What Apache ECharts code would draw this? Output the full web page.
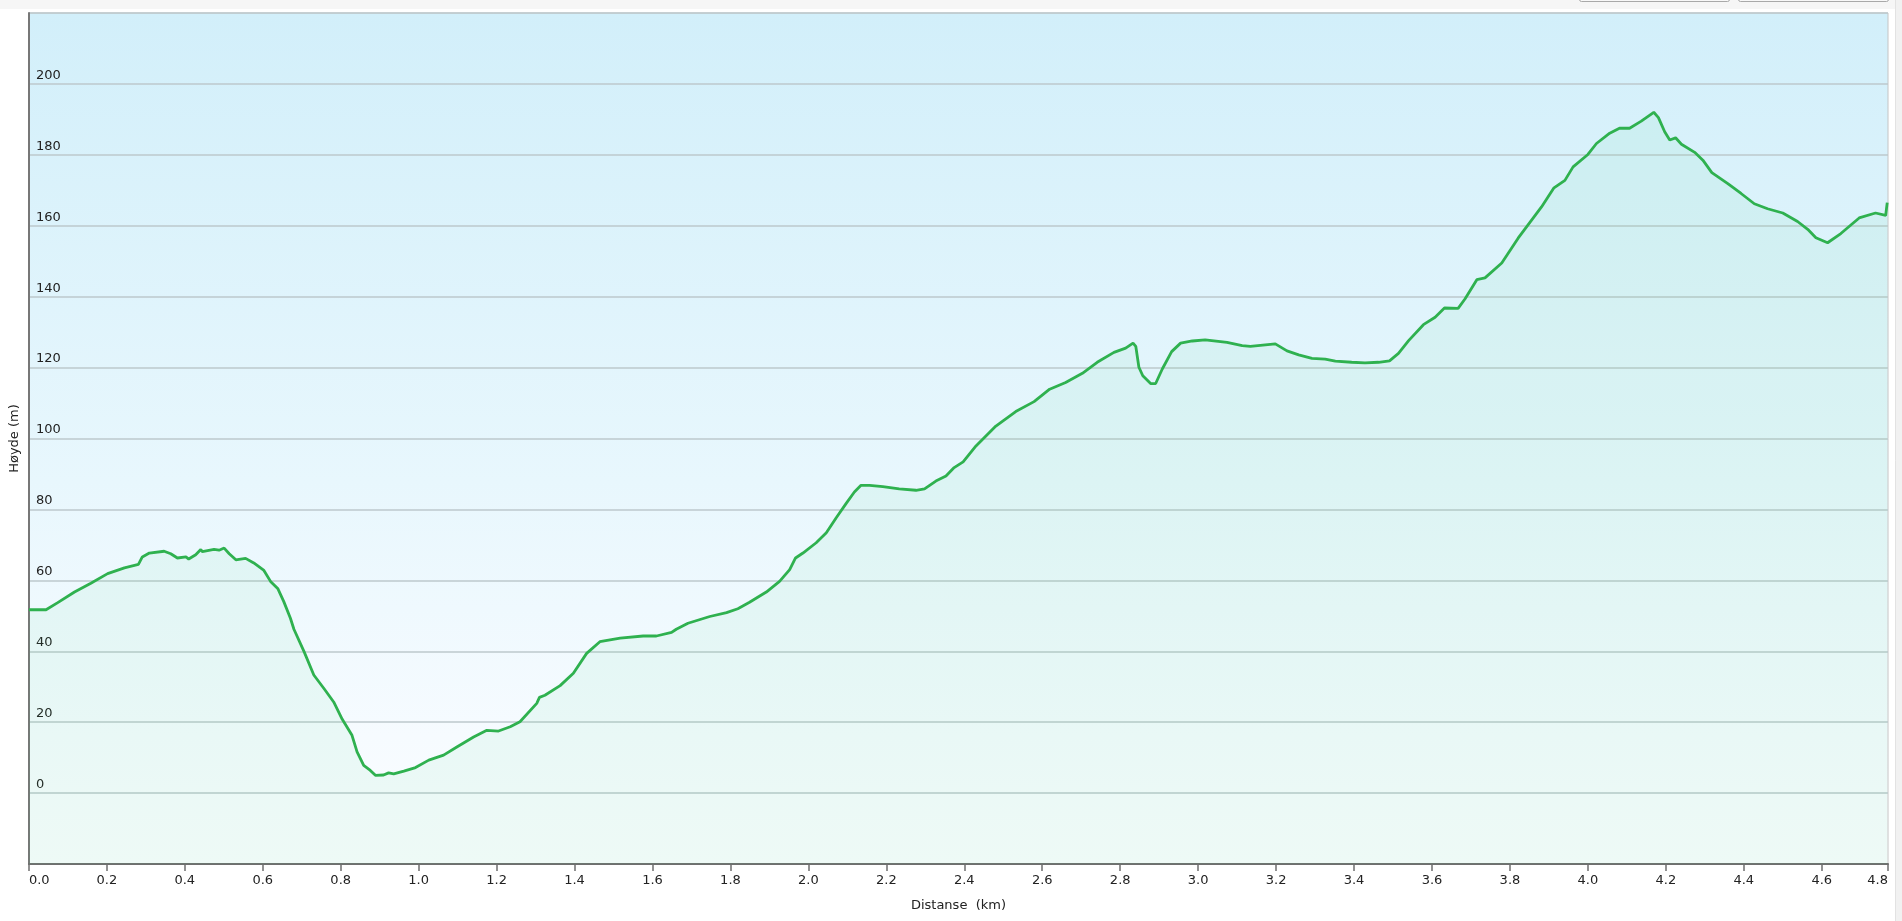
<!DOCTYPE html>
<html>
<head>
<meta charset="utf-8">
<title>Høydeprofil</title>
<script src="https://cdn.jsdelivr.net/npm/echarts@6/dist/echarts.min.js"></script>
<style>
  html, body { margin: 0; padding: 0; background: #ffffff; }
  #chart { width: 1902px; height: 921px; }
</style>
</head>
<body>
<div id="chart"></div>
<script>
// Distance along the route (km)
const distanceKm = [
  0.000, 0.044, 0.074, 0.117, 0.159, 0.202, 0.245, 0.281, 0.291, 0.309,
  0.347, 0.364, 0.381, 0.403, 0.410, 0.428, 0.441, 0.445, 0.475, 0.488,
  0.501, 0.514, 0.531, 0.556, 0.577, 0.603, 0.620, 0.639, 0.654, 0.671,
  0.680, 0.706, 0.731, 0.757, 0.782, 0.804, 0.829, 0.842, 0.859, 0.876,
  0.889, 0.910, 0.923, 0.936, 0.962, 0.992, 1.026, 1.064, 1.098, 1.141,
  1.175, 1.205, 1.235, 1.260, 1.303, 1.310, 1.324, 1.363, 1.397, 1.431,
  1.465, 1.517, 1.576, 1.610, 1.649, 1.661, 1.691, 1.747, 1.790, 1.819,
  1.849, 1.892, 1.926, 1.952, 1.967, 1.986, 2.020, 2.046, 2.071, 2.097,
  2.118, 2.135, 2.157, 2.191, 2.233, 2.276, 2.298, 2.327, 2.353, 2.374,
  2.397, 2.430, 2.481, 2.532, 2.579, 2.619, 2.660, 2.703, 2.741, 2.784,
  2.814, 2.833, 2.840, 2.848, 2.858, 2.878, 2.891, 2.908, 2.932, 2.955,
  2.985, 3.018, 3.074, 3.113, 3.134, 3.198, 3.228, 3.258, 3.292, 3.326,
  3.352, 3.394, 3.428, 3.463, 3.491, 3.514, 3.540, 3.578, 3.608, 3.632,
  3.667, 3.685, 3.715, 3.736, 3.779, 3.821, 3.881, 3.913, 3.941, 3.962,
  4.000, 4.022, 4.056, 4.081, 4.107, 4.137, 4.169, 4.181, 4.197, 4.210,
  4.225, 4.240, 4.274, 4.295, 4.318, 4.359, 4.393, 4.427, 4.461, 4.500,
  4.538, 4.564, 4.585, 4.615, 4.649, 4.696, 4.738, 4.764, 4.768
];

// Elevation (m)
const elevationM = [
  51.7, 51.7, 53.7, 56.7, 59.2, 61.9, 63.5, 64.5, 66.6, 67.7,
  68.2, 67.5, 66.3, 66.6, 66.0, 67.2, 68.7, 68.1, 68.7, 68.5,
  69.1, 67.5, 65.8, 66.2, 64.9, 62.8, 59.7, 57.6, 54.0, 49.3,
  46.2, 39.9, 33.3, 29.5, 25.7, 20.8, 16.3, 11.6, 7.8, 6.4,
  5.0, 5.1, 5.7, 5.4, 6.2, 7.2, 9.3, 10.7, 13.0, 15.8,
  17.7, 17.5, 18.7, 20.1, 25.3, 27.0, 27.6, 30.3, 33.8, 39.4,
  42.7, 43.7, 44.3, 44.3, 45.3, 46.2, 47.9, 49.8, 50.9, 52.0,
  53.8, 56.7, 59.7, 63.0, 66.3, 67.7, 70.6, 73.4, 77.6, 81.7,
  84.9, 86.8, 86.8, 86.4, 85.8, 85.4, 85.8, 88.0, 89.4, 91.8,
  93.4, 97.9, 103.5, 107.6, 110.4, 113.9, 115.8, 118.4, 121.5, 124.3,
  125.5, 126.9, 126.0, 120.1, 117.7, 115.5, 115.5, 119.6, 124.5, 126.9,
  127.5, 127.8, 127.1, 126.2, 126.0, 126.7, 124.7, 123.6, 122.6, 122.4,
  121.8, 121.5, 121.3, 121.5, 121.9, 124.0, 127.6, 132.1, 134.2, 136.8,
  136.7, 139.4, 144.8, 145.3, 149.5, 156.5, 165.3, 170.7, 172.8, 176.6,
  180.1, 183.2, 186.1, 187.5, 187.5, 189.5, 192.0, 190.5, 186.5, 184.2,
  184.8, 183.0, 180.7, 178.5, 175.0, 171.9, 169.1, 166.2, 164.8, 163.6,
  161.2, 159.0, 156.6, 155.2, 157.8, 162.2, 163.6, 162.9, 166.5
];

// Axis settings (values / tick labels)
const xMin = 0, xMax = 4.77, xStep = 0.2;
const yMin = -20, yMax = 220, yStep = 20;
const yLabelHidden = [-20, 220];
const xAxisTitle = 'Distanse  (km)';
const yAxisTitle = 'Høyde (m)';

const points = distanceKm.map((d, i) => [d, elevationM[i]]);

const FONT = 'DejaVu Sans, Verdana, sans-serif';
const chart = echarts.init(document.getElementById('chart'), null, { renderer: 'canvas' });

chart.setOption({
  animation: false,
  backgroundColor: '#ffffff',
  textStyle: { fontFamily: FONT },
  graphic: [
    { type: 'rect', z: -10, shape: { x: 0, y: 0, width: 1902, height: 9 }, style: { fill: '#f6f6f6' } },
    { type: 'rect', z: -5, shape: { x: 1579.5, y: -10, width: 150, height: 11.5, r: 2 }, style: { fill: '#f8f8f8', stroke: '#a9a9a9', lineWidth: 1 } },
    { type: 'rect', z: -5, shape: { x: 1738.5, y: -10, width: 150, height: 11.5, r: 2 }, style: { fill: '#f8f8f8', stroke: '#a9a9a9', lineWidth: 1 } },
    { type: 'rect', z: -10, shape: { x: 1895, y: 0, width: 7, height: 921 }, style: { fill: '#f1f1f1' } },
    { type: 'line', z: -9, shape: { x1: 1895.5, y1: 0, x2: 1895.5, y2: 921 }, style: { stroke: '#e2e2e2', lineWidth: 1 } }
  ],
  grid: {
    left: 25, top: 13, right: 14, bottom: 57,
    show: true,
    borderColor: '#c4c4c4',
    borderWidth: 1,
    backgroundColor: new echarts.graphic.LinearGradient(0, 0, 0, 1, [
      { offset: 0, color: '#d2effa' },
      { offset: 0.55, color: '#e8f7fd' },
      { offset: 0.85, color: '#f6fbff' },
      { offset: 1, color: '#fbfdff' }
    ])
  },
  xAxis: {
    type: 'value',
    min: xMin, max: xMax, interval: xStep,
    name: xAxisTitle,
    nameLocation: 'middle',
    nameGap: 35,
    nameTextStyle: { fontFamily: FONT, fontSize: 13, color: '#222' },
    axisLine: { show: true, onZero: false, lineStyle: { color: '#6f6f6f', width: 2 } },
    axisTick: { show: true, inside: false, length: 7, lineStyle: { color: '#6f6f6f', width: 1.5 } },
    axisLabel: {
      show: true, margin: 10, fontFamily: FONT, fontSize: 13, color: '#222',
      showMinLabel: true, showMaxLabel: true,
      alignMinLabel: 'left', alignMaxLabel: 'right',
      formatter: v => Number(v).toFixed(1)
    },
    splitLine: { show: false }
  },
  yAxis: {
    type: 'value',
    min: yMin, max: yMax, interval: yStep,
    name: yAxisTitle,
    nameLocation: 'middle',
    nameGap: 5,
    nameTextStyle: { fontFamily: FONT, fontSize: 13, color: '#222' },
    axisLine: { show: true, lineStyle: { color: '#777777', width: 2 } },
    axisTick: { show: false },
    axisLabel: {
      show: true, inside: true, margin: 7,
      fontFamily: FONT, fontSize: 13, color: '#222',
      verticalAlign: 'bottom', align: 'left',
      padding: [0, 0, 2, 0],
      formatter: v => (yLabelHidden.includes(v) ? '' : String(v))
    },
    splitLine: { show: true, lineStyle: { color: '#bcc8cd', width: 1.5 } }
  },
  series: [{
    type: 'line',
    data: points,
    showSymbol: false,
    smooth: false,
    lineStyle: { color: '#2fb14f', width: 2.8 },
    itemStyle: { color: '#2fb14f' },
    areaStyle: { color: 'rgba(70, 215, 130, 0.1)', origin: 'start' },
    z: 3
  }]
});
</script>
</body>
</html>
